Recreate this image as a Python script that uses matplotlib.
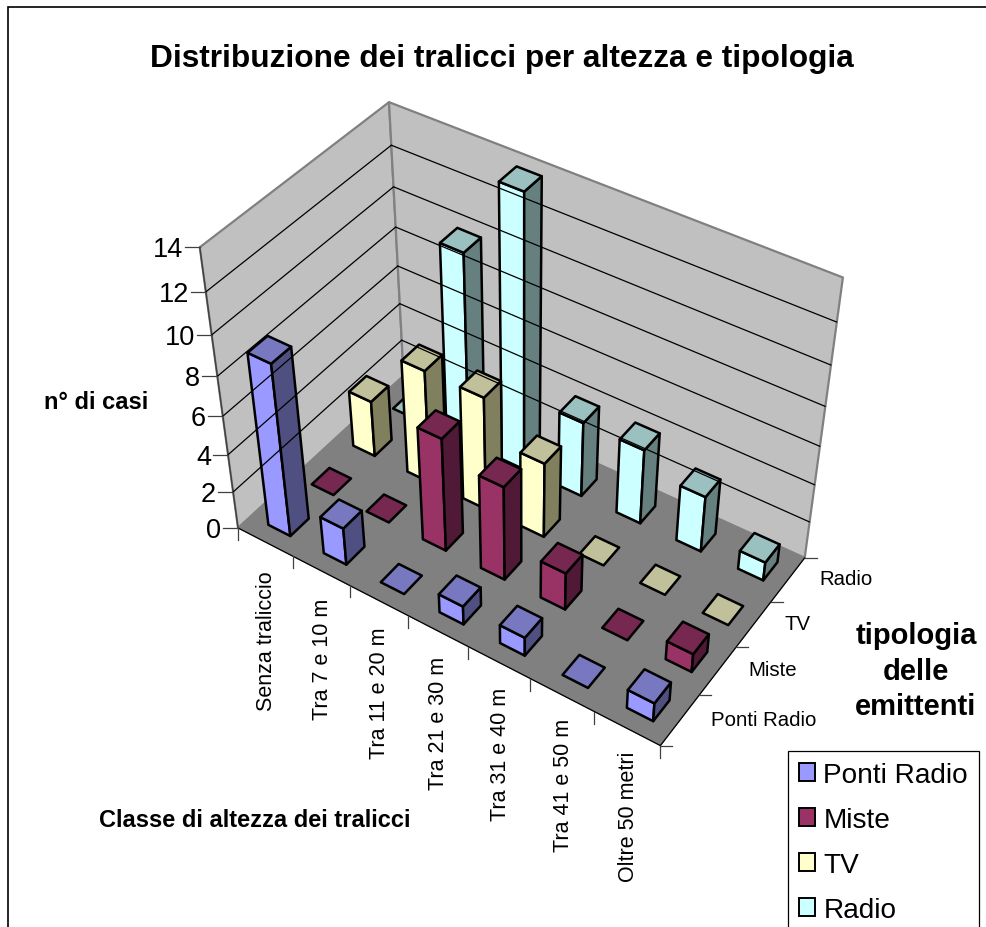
import numpy as np
import matplotlib
matplotlib.use("Agg")
import matplotlib.pyplot as plt
from matplotlib.patches import Polygon, Patch, Rectangle

plt.rcParams['font.family'] = ['Liberation Sans', 'DejaVu Sans']

# ---- data ----
categories = ["Senza traliccio", "Tra 7 e 10 m", "Tra 11 e 20 m", "Tra 21 e 30 m",
              "Tra 31 e 40 m", "Tra 41 e 50 m", "Oltre 50 metri"]
series_names = ["Ponti Radio", "Miste", "TV", "Radio"]
ponti_radio = [9, 2, 0, 1, 1, 0, 1]
miste = [0, 0, 6, 5, 2, 0, 1]
tv = [3, 6, 6, 4, 0, 0, 0]
radio = [0, 10, 14, 4, 4, 3, 1]
z_ticks = [0, 2, 4, 6, 8, 10, 12, 14]
title = "Distribuzione dei tralicci per altezza e tipologia"

series_values = [ponti_radio, miste, tv, radio]
face_colors = ["#9999FF", "#993366", "#FFFFCC", "#CCFFFF"]
top_colors = ["#7878C0", "#772850", "#C0C09A", "#9BC0C0"]
side_colors = ["#4F4F81", "#501A36", "#80805F", "#668080"]

# ---- camera: perspective fit of the plot box to its corners on the canvas ----
n_x, n_y, z_max = len(categories), len(series_names), z_ticks[-1]
box_world = [(0, 0, 0), (n_x, 0, 0), (n_x, n_y, 0), (0, n_y, 0),
             (0, 0, 14), (0, n_y, 14), (n_x, n_y, 14), (0, 0, 6), (0, n_y, 6)]
box_canvas = [(238, 529), (660, 747), (805, 558), (404, 377),
              (200, 248), (389, 103), (843, 279), (223, 417), (397, 267)]
A, b = [], []
for (X, Y, Z), (u, v) in zip(box_world, box_canvas):
    A.append([X, Y, Z, 1, 0, 0, 0, 0, -u * X, -u * Y, -u * Z])
    A.append([0, 0, 0, 0, X, Y, Z, 1, -v * X, -v * Y, -v * Z])
    b += [u, v]
h = np.linalg.lstsq(np.array(A, float), np.array(b, float), rcond=None)[0]
P = np.append(h, 1.0).reshape(3, 4)


def proj(x, y, z):
    p = P @ np.array([x, y, z, 1.0])
    return p[0] / p[2], p[1] / p[2]


fig = plt.figure(figsize=(9.86, 9.28), dpi=100)
ax = fig.add_axes([0, 0, 1, 1])
ax.set_xlim(0, 986)
ax.set_ylim(928, 0)
ax.axis("off")

LW = 1.8


def poly(points, fc, ec="black", lw=LW):
    ax.add_patch(Polygon([proj(*p) for p in points], closed=True, facecolor=fc,
                         edgecolor=ec, linewidth=lw, joinstyle="round"))


def line(p, q, color="black", lw=0.9):
    a, c = proj(*p), proj(*q)
    ax.plot([a[0], c[0]], [a[1], c[1]], color=color, lw=lw, solid_capstyle="round")


# chart-area frame
ax.add_patch(Rectangle((8, 8), 990, 940, facecolor="white", edgecolor="black", linewidth=1.2))

# walls and floor
poly([(0, 0, 0), (0, n_y, 0), (0, n_y, z_max), (0, 0, z_max)], "#C0C0C0", "#808080", 1.6)
poly([(0, n_y, 0), (n_x, n_y, 0), (n_x, n_y, z_max), (0, n_y, z_max)], "#C0C0C0", "#808080", 1.6)
poly([(0, 0, 0), (n_x, 0, 0), (n_x, n_y, 0), (0, n_y, 0)], "#808080", "#808080", 0.8)
line((0, 0, 0), (n_x, 0, 0), "black", 0.9)
line((n_x, 0, 0), (n_x, n_y, 0), "black", 0.9)
line((0, 0, 0), (0, 0, z_max), "#404040", 1.0)

# gridlines
for z in z_ticks[1:-1]:
    line((0, 0, z), (0, n_y, z))
    line((0, n_y, z), (n_x, n_y, z))

# z ticks + labels
for z in z_ticks:
    x0, y0 = proj(0, 0, z)
    ax.plot([x0 - 15, x0], [y0, y0], color="#404040", lw=0.9)
    ax.text(x0 - 17, y0 + 2, str(z), ha="right", va="center", fontsize=19.5, color="black")

# category ticks + labels
for i in range(n_x + 1):
    x0, y0 = proj(i, 0, 0)
    ax.plot([x0, x0], [y0, y0 + 12], color="#404040", lw=0.9)
for i, name in enumerate(categories):
    x0, y0 = proj(i + 0.5, 0, 0)
    ax.text(x0 + 1, y0 + 28 - i, name, rotation=90, ha="center", va="top", fontsize=15.5)

# series ticks + labels
for j in range(n_y + 1):
    x0, y0 = proj(n_x, j, 0)
    ax.plot([x0, x0 + 12], [y0, y0], color="#404040", lw=0.9)
for j, name in enumerate(series_names):
    x0, y0 = proj(n_x, j + 0.5, 0)
    ax.text(x0 + 31, y0 - 1, name, ha="left", va="center", fontsize=14.7)

# bars, back row to front row, left to right
bw = 0.20
bd = 0.21
for j in range(n_y - 1, -1, -1):
    for i, val in enumerate(series_values[j]):
        x0, x1 = i + 0.52 - bw, i + 0.52 + bw
        y0, y1 = j + 0.5 - bd, j + 0.5 + bd
        if val > 0:
            poly([(x0, y0, 0), (x1, y0, 0), (x1, y0, val), (x0, y0, val)], face_colors[j])
            poly([(x1, y0, 0), (x1, y1, 0), (x1, y1, val), (x1, y0, val)], side_colors[j])
        poly([(x0, y0, val), (x1, y0, val), (x1, y1, val), (x0, y1, val)], top_colors[j])

# titles
ax.text(502, 59, title, ha="center", va="center", fontsize=22.8, fontweight="bold")
ax.text(96, 403, "n° di casi", ha="center", va="center", fontsize=17, fontweight="bold")
ax.text(255, 821, "Classe di altezza dei tralicci", ha="center", va="center", fontsize=17, fontweight="bold")
ax.text(916, 636, "tipologia", ha="center", va="center", fontsize=21, fontweight="bold")
ax.text(916, 672, "delle", ha="center", va="center", fontsize=21, fontweight="bold")
ax.text(916, 707, "emittenti", ha="center", va="center", fontsize=21, fontweight="bold")

# legend
handles = [Patch(facecolor=c, edgecolor="black", linewidth=1.4) for c in face_colors]
leg = ax.legend(handles, series_names, loc="upper left", bbox_to_anchor=(788, 752),
                bbox_transform=ax.transData, fontsize=20.2, frameon=True, fancybox=False,
                edgecolor="black", framealpha=1, handlelength=0.6, handleheight=0.6,
                handletextpad=0.28, labelspacing=0.68, borderpad=0.38, borderaxespad=0)
leg.get_frame().set_linewidth(0.9)

fig.savefig("out.png", dpi=100)
